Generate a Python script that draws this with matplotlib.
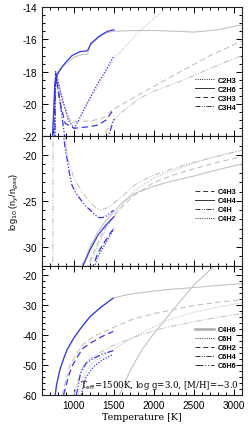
import matplotlib
matplotlib.use("Agg")
import numpy as np
import matplotlib.pyplot as plt
from matplotlib.lines import Line2D
from matplotlib.ticker import MultipleLocator, FixedLocator

BLUE = "#3535f5"
GREY = "#c2c2c2"

# ---- top panel: C2H3, C2H6, C3H3, C3H4 ----
c2h6_T_b = [728, 760, 790, 850, 900, 975, 1080, 1160, 1180, 1210, 1330, 1420, 1500]
c2h6_v_b = [-22.5, -18.8, -18.2, -17.7, -17.4, -17.0, -16.75, -16.72, -16.6, -16.25, -15.75, -15.5, -15.4]
c2h6_T_g = [725, 770, 800, 900, 1000, 1100, 1170, 1200, 1300, 1400, 1500, 1750, 2000, 2300, 2500, 2800, 3100]
c2h6_v_g = [-22.5, -18.3, -18.0, -17.5, -17.1, -16.95, -16.9, -16.4, -15.9, -15.6, -15.5, -15.45, -15.45, -15.5, -15.55, -15.4, -15.1]

c2h3_T_b = [760, 770, 850, 930, 1000, 1050, 1150, 1300, 1400, 1500]
c2h3_v_b = [-22.5, -18.0, -19.6, -21.0, -21.5, -21.1, -20.1, -18.7, -17.9, -17.0]
c2h3_T_g = [770, 860, 940, 1000, 1100, 1300, 1500, 1800, 2000, 2160, 2400]
c2h3_v_g = [-18.0, -19.8, -21.0, -21.2, -20.5, -18.9, -17.2, -15.6, -14.7, -14.0, -13.0]

c3h3_T_b = [740, 770, 830, 890, 1000, 1100, 1200, 1300, 1400, 1500]
c3h3_v_b = [-22.5, -18.1, -20.0, -21.2, -21.5, -21.45, -21.4, -21.3, -21.0, -20.3]
c3h3_T_g = [775, 850, 950, 1000, 1200, 1350, 1500, 1750, 2000, 2330, 2700, 3100]
c3h3_v_g = [-18.1, -19.8, -21.0, -21.1, -21.05, -20.9, -20.3, -19.6, -18.9, -18.0, -17.0, -16.1]

c3h4_T_b = [760, 770, 830, 895, np.nan, 1390, 1450, 1500]
c3h4_v_b = [-22.5, -18.2, -20.0, -22.5, np.nan, -22.5, -21.7, -20.9]
c3h4_T_g = [1330, 1400, 1500, 1600, 1800, 2000, 2330, 2700, 3100]
c3h4_v_g = [-22.5, -21.7, -21.0, -20.5, -19.7, -19.2, -18.6, -17.8, -17.0]

# ---- middle panel: C4H3, C4H4, C4H, C4H2 ----
c4h_T_b = [860, 870, 890, 912, 940, 975, 1020, 1079, 1140, 1204, 1260, 1307, 1360, 1412, 1495]
c4h_v_b = [-17.0, -18.0, -19.3, -20.4, -21.9, -23.3, -24.1, -24.8, -25.5, -26.0, -26.5, -26.8, -26.8, -26.6, -26.0]
c4h_T_g = [735, 738, 880, 895, 940, 1000, 1100, 1200, 1300, 1340, 1450, 1600, 1800, 2000, 2160, 2500, 3100]
c4h_v_g = [-33.0, -17.0, -17.0, -18.8, -21.0, -22.5, -24.0, -25.2, -25.9, -26.0, -25.6, -24.5, -23.0, -22.2, -21.7, -20.8, -19.5]

c4h4_T_b = [1090, 1200, 1300, 1400, 1500]
c4h4_v_b = [-32.5, -30.3, -28.7, -27.6, -26.7]
c4h4_T_g = [1080, 1200, 1300, 1400, 1500, 1600, 1750, 2000, 2200, 2500, 2800, 3100]
c4h4_v_g = [-32.5, -30.0, -28.3, -27.1, -26.2, -25.2, -24.2, -23.4, -22.9, -22.3, -21.6, -21.0]

c4h3_T_b = [1220, 1300, 1400, 1500]
c4h3_v_b = [-32.5, -30.6, -29.2, -27.9]
c4h3_T_g = [1150, 1300, 1400, 1500, 1580, 1750, 2000, 2200, 2500, 2800, 3100]
c4h3_v_g = [-32.5, -29.5, -27.8, -26.6, -25.8, -24.4, -23.0, -22.3, -21.5, -20.8, -20.2]

c4h2_T_b = [1240, 1300, 1400, 1500]
c4h2_v_b = [-32.5, -31.0, -29.5, -28.0]
c4h2_T_g = [1170, 1300, 1400, 1500, 1600, 1750, 2000, 2200, 2500, 2800, 3100]
c4h2_v_g = [-32.5, -29.8, -28.0, -26.7, -25.5, -23.9, -22.5, -21.8, -20.9, -20.1, -19.5]

# ---- bottom panel: C4H6, C6H, C6H2, C6H4, C6H6 ----
c4h6_T_b = [766, 780, 820, 870, 913, 1000, 1080, 1200, 1330, 1490]
c4h6_v_b = [-60, -57, -52, -48, -45, -41, -38, -34, -31, -27.8]
c4h6_T_g = [766, 780, 820, 870, 913, 1000, 1080, 1200, 1330, 1500, 1700, 2000, 2160, 2500, 2800, 3100]
c4h6_v_g = [-60, -57, -52, -48, -45, -41, -38, -34, -31, -27.7, -26.5, -25.5, -25.0, -24.3, -23.6, -23.0]

c6h2_T_b = [870, 930, 975, 1050, 1117, 1230, 1350, 1490]
c6h2_v_b = [-60, -54, -50.5, -47, -44.4, -42.4, -40.6, -38.9]
c6h2_T_g = [850, 950, 1100, 1250, 1500, 1740, 2000, 2160, 2500, 2800, 3100]
c6h2_v_g = [-60, -50, -43.5, -40.5, -37.5, -34.8, -33.0, -32.1, -30.3, -29.2, -28.3]

c6h4_T_b = [1030, 1080, 1150, 1250, 1350, 1490]
c6h4_v_b = [-60, -53, -49.5, -47.8, -46.5, -45.3]
c6h4_T_g = [1000, 1100, 1200, 1350, 1500, 1750, 2000, 2160, 2500, 2800, 3100]
c6h4_v_g = [-60, -51, -48, -45.5, -43.5, -40.8, -38.7, -37.5, -35.7, -34.2, -33.0]

c6h_T_b = [1090, 1150, 1250, 1350, 1490]
c6h_v_b = [-60, -54, -50.5, -48.5, -46.5]
c6h_T_g = [1050, 1150, 1250, 1400, 1500, 1750, 2000, 2160, 2500, 2800, 3100]
c6h_v_g = [-60, -52, -49, -46.5, -44.8, -40.8, -37.3, -35.3, -32.5, -30.8, -29.4]

c6h6_T_g = [1570, 1700, 1850, 2000, 2200, 2500, 2760]
c6h6_v_g = [-60, -52, -45, -39.6, -33, -23.4, -17]

top_yticks = [-22, -20, -18, -16, -14]
mid_yticks = [-30, -25, -20]
bot_yticks = [-60, -50, -40, -30, -20]

DOT = (0, (1, 1.3))
DASH = (0, (5, 3))
DDOT = (0, (5, 1.5, 1, 1.5, 1, 1.5))
LDDOT = (0, (8, 2, 1, 2, 1, 2))

fig = plt.figure(figsize=(2.5, 4.27), dpi=100)
L, W = 0.168, 0.80
B0, H = 0.073, 0.3027
ax_top = fig.add_axes([L, B0 + 2 * H, W, H])
ax_mid = fig.add_axes([L, B0 + H, W, H])
ax_bot = fig.add_axes([L, B0, W, H])


def pair(ax, Tb, vb, Tg, vg, ls):
    ax.plot(Tg, vg, color=GREY, lw=0.8, ls=ls, zorder=2)
    if Tb is not None:
        ax.plot(Tb, vb, color=BLUE, lw=0.9, ls=ls, zorder=3)


pair(ax_top, c2h3_T_b, c2h3_v_b, c2h3_T_g, c2h3_v_g, DOT)
pair(ax_top, c2h6_T_b, c2h6_v_b, c2h6_T_g, c2h6_v_g, "-")
pair(ax_top, c3h3_T_b, c3h3_v_b, c3h3_T_g, c3h3_v_g, DASH)
pair(ax_top, c3h4_T_b, c3h4_v_b, c3h4_T_g, c3h4_v_g, DDOT)

pair(ax_mid, c4h3_T_b, c4h3_v_b, c4h3_T_g, c4h3_v_g, DASH)
pair(ax_mid, c4h4_T_b, c4h4_v_b, c4h4_T_g, c4h4_v_g, "-")
pair(ax_mid, c4h_T_b, c4h_v_b, c4h_T_g, c4h_v_g, DDOT)
pair(ax_mid, c4h2_T_b, c4h2_v_b, c4h2_T_g, c4h2_v_g, DOT)

pair(ax_bot, c4h6_T_b, c4h6_v_b, c4h6_T_g, c4h6_v_g, "-")
pair(ax_bot, c6h_T_b, c6h_v_b, c6h_T_g, c6h_v_g, DOT)
pair(ax_bot, c6h2_T_b, c6h2_v_b, c6h2_T_g, c6h2_v_g, DASH)
pair(ax_bot, c6h4_T_b, c6h4_v_b, c6h4_T_g, c6h4_v_g, DDOT)
pair(ax_bot, None, None, c6h6_T_g, c6h6_v_g, "-")

tickfont = "Liberation Sans"
for ax, ylim, ticks, mnr in [(ax_top, (-22, -14), top_yticks, 0.5),
                              (ax_mid, (-32, -18), mid_yticks, 1),
                              (ax_bot, (-60, -17), bot_yticks, 2)]:
    ax.set_xlim(600, 3100)
    ax.set_ylim(*ylim)
    ax.xaxis.set_major_locator(MultipleLocator(500))
    ax.xaxis.set_minor_locator(MultipleLocator(100))
    ax.yaxis.set_major_locator(FixedLocator(ticks))
    ax.yaxis.set_minor_locator(MultipleLocator(mnr))
    ax.yaxis.set_major_formatter(plt.FuncFormatter(lambda v, p: "%d" % round(v)))
    ax.tick_params(which="both", direction="in", top=True, right=True, width=0.7)
    ax.tick_params(which="major", length=4)
    ax.tick_params(which="minor", length=2)
    for s in ax.spines.values():
        s.set_linewidth(0.8)
        s.set_color("#222222")
    for lab in ax.get_yticklabels() + ax.get_xticklabels():
        lab.set_fontfamily(tickfont)
        lab.set_fontsize(7.2)

ax_top.tick_params(labelbottom=False)
ax_mid.tick_params(labelbottom=False)

ax_bot.set_xlabel("Temperature [K]", family="DejaVu Serif", fontsize=6.8, labelpad=2)
ax_mid.set_ylabel(r"log$_{10}$ (n$_y$/n$_{gas}$)", family=tickfont, fontsize=6.5, labelpad=1)
ax_bot.text(0.985, 0.03, r"T$_{\rm eff}$=1500K, log g=3.0, [M/H]=$-$3.0",
            transform=ax_bot.transAxes, ha="right", va="bottom",
            family="DejaVu Serif", fontsize=6.2)


def legend(ax, names, styles, y0):
    hs = []
    for n, s in zip(names, styles):
        if n == "C4H6":
            hs.append(Line2D([], [], color="#aaaaaa", lw=1.8, ls=s, label=n))
        else:
            hs.append(Line2D([], [], color="#333333", lw=0.7, ls=s, label=n))
    ax.legend(handles=hs, loc="upper right", bbox_to_anchor=(1.0, y0), frameon=False,
              prop={"family": tickfont, "size": 5.3, "weight": "bold"},
              handlelength=2.6, handletextpad=0.6, labelspacing=0.25, borderaxespad=0.3)


legend(ax_top, ["C2H3", "C2H6", "C3H3", "C3H4"], [DOT, "-", DASH, DDOT], 0.5)
legend(ax_mid, ["C4H3", "C4H4", "C4H", "C4H2"], [DASH, "-", DDOT, DOT], 0.64)
legend(ax_bot, ["C4H6", "C6H", "C6H2", "C6H4", "C6H6"], ["-", DOT, DASH, DDOT, LDDOT], 0.57)

fig.savefig("out.png", dpi=100)
